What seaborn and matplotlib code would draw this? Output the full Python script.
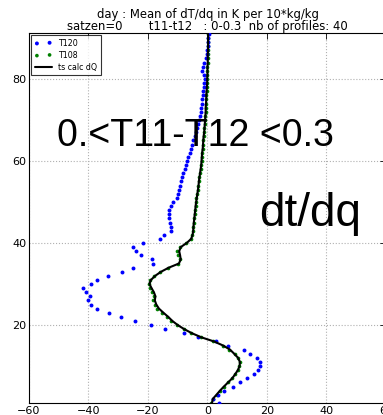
import numpy as np
import pandas as pd
import matplotlib
matplotlib.use("Agg")
import matplotlib.pyplot as plt
import seaborn as sns

# model levels (1 = lowest)
levels = list(range(1, 92))

# T120 channel sensitivity, K per 10*kg/kg
t120 = [3.8, 1.7, 3.4, 5.7, 8.5, 10.9, 13.3, 15.6, 17.0, 17.6,
        17.6, 16.7, 14.2, 12.2, 6.8, 3.0, -3.3, -8.0, -14.3, -18.9,
        -24.4, -29.0, -33.0, -37.2, -39.1, -40.2, -39.4, -40.9, -41.8, -39.2,
        -37.1, -33.5, -28.6, -25.1, -18.4, -18.7, -22.5, -24.0, -25.1, -21.6,
        -16.0, -14.5, -12.4, -12.4, -12.7, -12.8, -12.9, -12.8, -12.2, -11.5,
        -10.4, -10.0, -9.6, -9.2, -8.8, -8.4, -8.1, -7.6, -7.2, -6.8,
        -6.4, -6.0, -5.5, -5.1, -4.7, -4.3, -3.9, -3.5, -3.1, -2.8,
        -2.5, -2.3, -2.1, -1.9, -1.8, -1.6, -1.4, -1.3, -1.1, -0.9,
        -1.3, -1.8, -1.6, -1.0, -0.4, -0.2, 0.0, 0.1, 0.2, 0.3, 0.4]

# T108 channel sensitivity
t108 = [1.3, 1.9, 3.1, 4.3, 5.4, 6.8, 8.2, 9.4, 10.3, 10.7,
        10.9, 10.2, 9.1, 7.4, 5.1, 2.0, -2.2, -5.4, -8.0, -10.3,
        -12.1, -13.5, -15.2, -16.8, -17.7, -18.3, -18.0, -18.6, -19.3, -19.8,
        -19.4, -18.0, -15.9, -13.2, -9.8, -9.4, -10.0, -10.2, -9.4, -7.2,
        -5.7, -5.1, -4.9, -4.8, -4.6, -4.5, -4.3, -4.2, -4.0, -3.8,
        -3.7, -3.4, -3.2, -3.1, -2.9, -2.7, -2.5, -2.3, -2.2, -2.0,
        -1.9, -1.8, -1.6, -1.5, -1.4, -1.3, -1.1, -1.0, -0.9, -0.8,
        -0.7, -0.6, -0.6, -0.5, -0.4, -0.4, -0.3, -0.2, -0.1, -0.1,
        0.0, 0.0, 0.0, 0.1, 0.1, 0.1, 0.2, 0.2, 0.2, 0.2, 0.2]

# profile computed from dQ
ts_calc = [1.5, 1.8, 3.0, 4.2, 5.5, 6.9, 8.3, 9.3, 10.2, 10.8,
           10.9, 10.3, 9.0, 7.6, 5.3, 2.2, -2.0, -5.2, -7.8, -10.0,
           -11.8, -13.2, -14.8, -16.3, -17.2, -17.7, -17.5, -18.0, -18.8, -19.5,
           -19.0, -17.6, -15.6, -13.0, -9.6, -9.0, -9.2, -9.5, -9.0, -7.0,
           -5.5, -5.0, -4.8, -4.7, -4.6, -4.4, -4.3, -4.1, -4.0, -3.8,
           -3.6, -3.4, -3.2, -3.0, -2.9, -2.7, -2.5, -2.3, -2.1, -2.0,
           -1.9, -1.8, -1.6, -1.5, -1.4, -1.3, -1.1, -1.0, -0.9, -0.8,
           -0.7, -0.6, -0.6, -0.5, -0.4, -0.4, -0.3, -0.2, -0.1, -0.1,
           0.0, 0.0, 0.0, 0.1, 0.1, 0.1, 0.2, 0.2, 0.2, 0.2, 0.2]

x_ticks = [-60, -40, -20, 0, 20, 40, 60]
y_ticks = [20, 40, 60, 80]

df = pd.DataFrame({"level": levels, "T120": t120, "T108": t108, "ts": ts_calc})

sns.set_style("white")
plt.rcParams["font.family"] = ["DejaVu Sans"]
plt.rcParams["text.color"] = "black"
plt.rcParams["xtick.color"] = "black"
plt.rcParams["ytick.color"] = "black"
plt.rcParams["axes.labelcolor"] = "black"

fig = plt.figure(figsize=(3.83, 4.15), dpi=100)
ax = fig.add_axes([0.0757, 0.0289, 0.932, 0.8916])

sns.scatterplot(data=df, x="T120", y="level", ax=ax, color="#0000ff",
                s=8, linewidth=0, label="T120", zorder=3)
sns.scatterplot(data=df, x="T108", y="level", ax=ax, color="#008000",
                s=7, linewidth=0, label="T108", zorder=2)
sns.lineplot(data=df, x="ts", y="level", ax=ax, sort=False, orient="y",
             color="black", linewidth=1.5, label="ts calc dQ", zorder=4)

ax.set_xlim(-60, 60)
ax.set_ylim(1, 91.2)
ax.set_xticks(x_ticks)
ax.set_yticks(y_ticks)
ax.set_xlabel("")
ax.set_ylabel("")
ax.grid(True, color="#b0b0b0", linestyle=":", linewidth=0.8)
ax.tick_params(direction="in", length=4, width=0.6, labelsize=8,
               top=True, right=True, pad=2, colors="black")
for sp in ax.spines.values():
    sp.set_color("black")
    sp.set_linewidth(0.8)

ax.set_title("day : Mean of dT/dq in K per 10*kg/kg\n"
             "satzen=0       t11-t12   : 0-0.3  nb of profiles: 40",
             fontsize=8.4, pad=2, linespacing=0.95, color="black")

leg = ax.legend(loc="upper left", fontsize=5.7, frameon=True, fancybox=False,
                edgecolor="black", borderpad=0.4, handlelength=2.2,
                labelspacing=0.4, scatterpoints=2, borderaxespad=0.3)
leg.get_frame().set_linewidth(0.8)

ax.text(-4.0, 66.0, "0.<T11-T12 <0.3", fontsize=27, family="Liberation Sans",
        ha="center", va="center", color="black")
ax.text(34.6, 47.0, "dt/dq", fontsize=33, family="Liberation Sans",
        ha="center", va="center", color="black")

fig.savefig("out.png", dpi=100)
